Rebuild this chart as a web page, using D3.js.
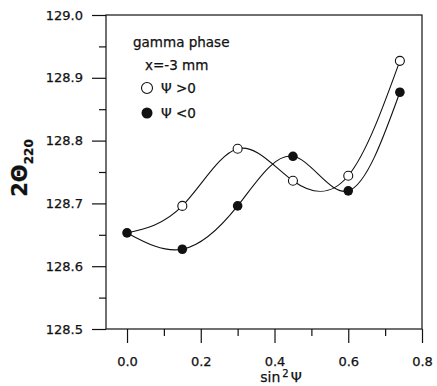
<!DOCTYPE html>
<html><head><meta charset="utf-8">
<script src="https://cdn.jsdelivr.net/npm/d3@7"></script>
<style>body{margin:0;background:#fff}svg{display:block}text{font-family:"DejaVu Sans",sans-serif;fill:#111}</style>
</head><body><svg id="c" width="437" height="386"></svg>
<script>
const xPos = [0, 0.15, 0.3, 0.45, 0.6, 0.74];
const posPsi = [null, 128.696, 128.787, 128.736, 128.744, 128.927];
const negPsi = [128.653, 128.627, 128.696, 128.775, 128.72, 128.877];
const xTicks = [0.0, 0.2, 0.4, 0.6, 0.8];
const yTicks = [128.5, 128.6, 128.7, 128.8, 128.9, 129.0];

const FF = '"DejaVu Sans",sans-serif';
const svg = d3.select("#c");
const L = 106, R = 422, T = 15, B = 329;
const x = d3.scaleLinear().domain([-0.057, 0.8]).range([L, R]);
const y = d3.scaleLinear().domain([128.5, 129.0]).range([B, T]);

// frame
svg.append("rect").attr("x", L).attr("y", T).attr("width", R - L).attr("height", B - T)
  .attr("fill", "none").attr("stroke", "#111").attr("stroke-width", 1.2);

function styleText(sel, size) {
  sel.attr("font-size", size).style("font-family", FF).attr("fill", "#111")
    .attr("stroke", "#111").attr("stroke-width", 0.25);
}

// y axis
const ya = svg.append("g").attr("transform", `translate(${L},0)`)
  .call(d3.axisLeft(y).tickValues(yTicks).tickFormat(d3.format(".1f")).tickSize(14).tickPadding(9));
ya.select(".domain").remove();
styleText(ya.selectAll("text"), 13);
ya.selectAll("line").attr("stroke", "#111").attr("stroke-width", 1.2);
const yMinor = d3.range(128.55, 129.0, 0.1);
svg.append("g").attr("transform", `translate(${L},0)`)
  .call(d3.axisLeft(y).tickValues(yMinor).tickFormat("").tickSize(7))
  .call(g => g.select(".domain").remove())
  .selectAll("line").attr("stroke", "#111").attr("stroke-width", 1.2);

// x axis
const xa = svg.append("g").attr("transform", `translate(0,${B})`)
  .call(d3.axisBottom(x).tickValues(xTicks).tickFormat(d3.format(".1f")).tickSize(14).tickPadding(14));
xa.select(".domain").remove();
styleText(xa.selectAll("text"), 13);
xa.selectAll("line").attr("stroke", "#111").attr("stroke-width", 1.2);
const xMinor = [0.1, 0.3, 0.5, 0.7];
svg.append("g").attr("transform", `translate(0,${B})`)
  .call(d3.axisBottom(x).tickValues(xMinor).tickFormat("").tickSize(7))
  .call(g => g.select(".domain").remove())
  .selectAll("line").attr("stroke", "#111").attr("stroke-width", 1.2);

// axis labels
const xl = svg.append("text").attr("x", 281).attr("y", 382).attr("text-anchor", "middle");
styleText(xl, 14);
xl.append("tspan").text("sin");
xl.append("tspan").attr("font-size", 10).attr("dy", -5).attr("dx", 2).text("2");
xl.append("tspan").attr("dy", 5).attr("dx", 2).text("Ψ");

const yl = svg.append("text").attr("transform", "translate(27,168) rotate(-90)").attr("text-anchor", "middle");
styleText(yl, 21);
yl.attr("font-weight", "bold");
yl.append("tspan").text("2Θ");
yl.append("tspan").attr("font-size", 12).attr("dy", 6).text("220");

// curves
const line = d3.line().x(d => x(d[0])).y(d => y(d[1])).curve(d3.curveNatural);
const posData = xPos.map((v, i) => [v, posPsi[i] === null ? negPsi[0] : posPsi[i]]);
const negData = xPos.map((v, i) => [v, negPsi[i]]);
svg.append("path").attr("d", line(posData)).attr("fill", "none").attr("stroke", "#111").attr("stroke-width", 1.1);
svg.append("path").attr("d", line(negData)).attr("fill", "none").attr("stroke", "#111").attr("stroke-width", 1.1);

svg.append("g").selectAll("circle").data(posData.slice(1)).join("circle")
  .attr("cx", d => x(d[0])).attr("cy", d => y(d[1])).attr("r", 4.5)
  .attr("fill", "#fff").attr("stroke", "#111").attr("stroke-width", 1.1);
svg.append("g").selectAll("circle").data(negData).join("circle")
  .attr("cx", d => x(d[0])).attr("cy", d => y(d[1])).attr("r", 4.8)
  .attr("fill", "#111");

// legend
styleText(svg.append("text").attr("x", 133).attr("y", 47).text("gamma phase"), 13.5);
styleText(svg.append("text").attr("x", 145).attr("y", 70).text("x=-3 mm"), 13.5);
svg.append("circle").attr("cx", 147).attr("cy", 88).attr("r", 5.5).attr("fill", "#fff").attr("stroke", "#111").attr("stroke-width", 1.1);
svg.append("circle").attr("cx", 147).attr("cy", 113).attr("r", 5.5).attr("fill", "#111");
styleText(svg.append("text").attr("x", 161).attr("y", 93).text("Ψ >0"), 13.5);
styleText(svg.append("text").attr("x", 161).attr("y", 118).text("Ψ <0"), 13.5);
</script></body></html>
